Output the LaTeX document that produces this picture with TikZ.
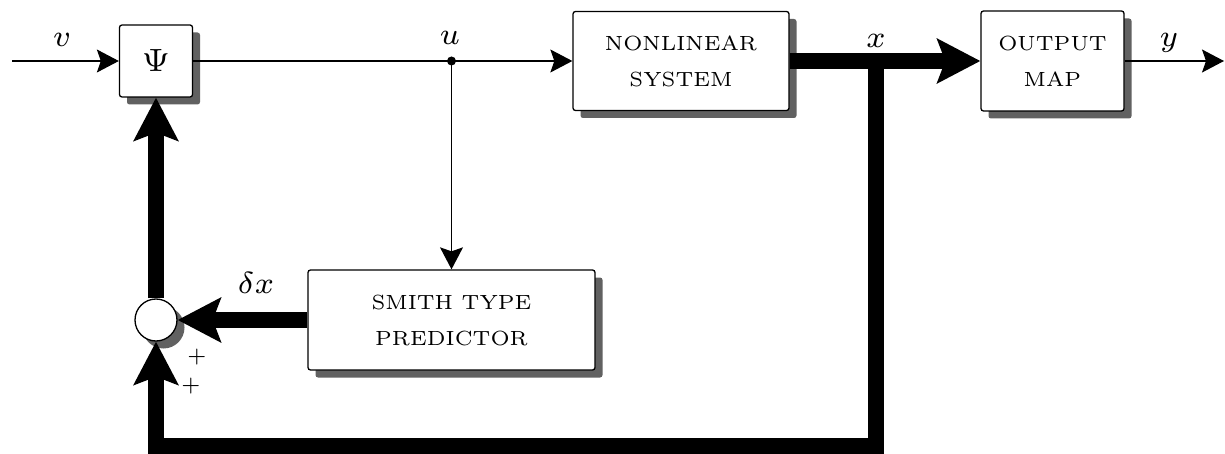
\documentclass[tikz,border=0pt]{standalone}
\usepackage{graphicx}
\usetikzlibrary{arrows.meta,shadows}
% small optical sizes, enlarged
\newcommand\boxtext[1]{\scalebox{3.42}{\fontsize{6}{10.7}\selectfont\begin{tabular}{@{}c@{}}#1\end{tabular}}}
\newcommand\bigmath[2]{\scalebox{#1}{$\scriptstyle #2$}}
\tikzset{
  shade blk/.style={drop shadow={shadow xshift=7.5pt, shadow yshift=-7.5pt, fill=black!62, opacity=1}},
  blk/.style={draw, line width=1.3pt, rounded corners=2.5pt, fill=white, align=center, inner sep=0pt, shade blk},
  sigline/.style={line width=1.2pt, -{Stealth[length=22pt,width=23pt,inset=4pt]}},
  busline/.style={line width=16pt, line join=miter, -{Stealth[length=43pt,width=44pt,inset=8pt]}},
  lbl/.style={inner sep=0pt}
}
\begin{document}
\begin{tikzpicture}[x=1pt, y=-1pt]
\useasboundingbox (0,0) rectangle (1225,454);

% blocks
\node[blk, minimum width=73pt, minimum height=72pt] (psi) at (156,61) {\bigmath{4.6}{\Psi}};
\node[blk, minimum width=216pt, minimum height=99pt] (sys) at (681,61) {\boxtext{NONLINEAR\\SYSTEM}};
\node[blk, minimum width=143pt, minimum height=100pt] (out) at (1052.5,61) {\boxtext{OUTPUT\\MAP}};
\node[blk, minimum width=287pt, minimum height=100pt] (smith) at (451.5,320) {\boxtext{SMITH TYPE\\PREDICTOR}};
\node[circle, draw, fill=white, line width=1.3pt, minimum size=42pt, inner sep=0pt, shade blk] (sum) at (156,320) {};

% junctions and free ends
\coordinate (vin) at (12,61);
\coordinate (yout) at (1224,61);
\coordinate (ujn) at (451.5,61);
\coordinate (xjn) at (876,61);
\coordinate (br) at (876,446);
\coordinate (bl) at (156,446);

% thin signal paths
\draw[sigline] (vin) -- (psi.west);
\draw[line width=1.2pt] (psi.east) -- (ujn);
\draw[sigline] (ujn) -- (sys.west);
\draw[sigline] (ujn) -- (smith.north);
\fill (ujn) circle (4.5pt);
\draw[sigline] (out.east) -- (yout);

% state (bus) paths
\draw[busline] (sys.east) -- (out.west);
\draw[busline] (xjn) -- (br) -- (bl) -- (sum.south);
\draw[busline] (smith.west) -- (sum.east);
\draw[busline] (sum.north) -- (psi.south);

% labels
\node[lbl] (vl) at (62,40) {\bigmath{4.35}{v}};
\node[lbl] (ul) at (450,37.5) {\bigmath{4.35}{u}};
\node[lbl] (xl) at (876,40.5) {\bigmath{4.35}{x}};
\node[lbl] (yl) at (1169,42.5) {\bigmath{4.35}{y}};
\node[lbl] (dl) at (256,283) {\bigmath{4.35}{\delta x}};
\node[lbl] (p1) at (197,357) {\bigmath{3.1}{+}};
\node[lbl] (p2) at (191,386) {\bigmath{3.1}{+}};
\end{tikzpicture}
\end{document}
